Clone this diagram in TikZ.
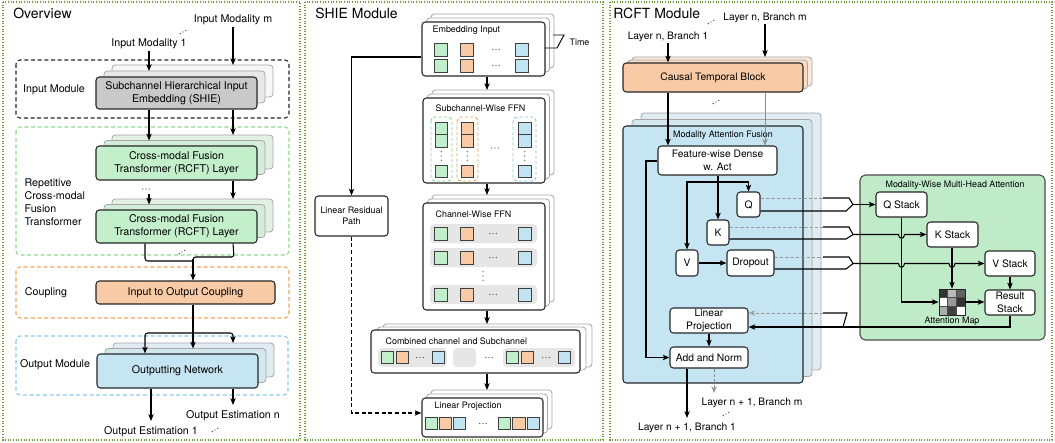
\documentclass[tikz,border=0pt]{standalone}
\usepackage{fontspec}
\setmainfont{TeX Gyre Heros}
\usetikzlibrary{arrows.meta,calc}
\definecolor{cgray}{HTML}{C9C9C9}
\definecolor{cgreen}{HTML}{C3EFCB}
\definecolor{cgreenb}{HTML}{D4EDD8}
\definecolor{cgreenc}{HTML}{E2F0E4}
\definecolor{corange}{HTML}{F8CBA6}
\definecolor{corangeb}{HTML}{FADCC4}
\definecolor{corangec}{HTML}{FBE8DA}
\definecolor{cblue}{HTML}{C6E5F3}
\definecolor{cblueb}{HTML}{D3E7EF}
\definecolor{cbluec}{HTML}{E0ECF1}
\definecolor{cmaf}{HTML}{C5E5F3}
\definecolor{cmwg}{HTML}{BFEBC8}
\definecolor{pgreen}{HTML}{6B9A3A}
\definecolor{dgreen}{HTML}{8FD78F}
\definecolor{dorange}{HTML}{F0A35A}
\definecolor{dblue}{HTML}{8CC8E6}
\definecolor{cbar}{HTML}{E6E6E6}
\definecolor{sgreen}{HTML}{C2EFCB}
\definecolor{sorange}{HTML}{F8CBA6}
\definecolor{sblue}{HTML}{C2E3F1}
\newcommand{\ftitle}{\fontsize{10.5}{12}\selectfont}
\newcommand{\ftxt}{\fontsize{8}{9.6}\selectfont}
\newcommand{\frc}{\fontsize{7.7}{9.4}\selectfont}
\newcommand{\fsm}{\fontsize{6.7}{8}\selectfont}
\newcommand{\bx}[7]{\node[#6, minimum width={(#4-#2)*0.75pt}, minimum height={(#5-#3)*0.75pt}] (#1) at ({(#2+#4)/2},{(#3+#5)/2}) {#7};}
\newcommand{\stacked}[9]{%
  \path[#8c] ({#2+2*#6},{#3+2*#7}) rectangle ({#4+2*#6},{#5+2*#7});
  \path[#8b] ({#2+#6},{#3+#7}) rectangle ({#4+#6},{#5+#7});
  \coordinate (#1-a) at ({#2+#6},{#3+#7});
  \coordinate (#1-b) at ({#2+2*#6},{#3+2*#7});
  \bx{#1}{#2}{#3}{#4}{#5}{#8}{#9}
}
\newcommand{\dd}[3]{\foreach \k in {-1,0,1}{\fill[black!75] ({#1+\k*3.2*cos(#3)},{#2-\k*3.2*sin(#3)}) circle (0.5pt);}}
\newcommand{\dv}[2]{\foreach \k in {-1,0,1}{\fill[black!75] (#1,{#2+\k*4.2}) circle (0.5pt);}}
\newcommand{\sq}[4]{\path[sqr, fill=#4] (#1,#2) rectangle ++(#3,#3);}
\begin{document}
\begin{tikzpicture}[x=0.75pt,y=-0.75pt,
  box/.style={draw=black!85, line width=0.8pt, rounded corners=2.5pt, inner sep=0pt, align=center},
  bk/.style={draw=black!35, line width=0.6pt, rounded corners=2.5pt},
  ovg/.style={box, fill=cgray, font=\ftxt}, ovgb/.style={bk, fill=gray!18}, ovgc/.style={bk, fill=gray!6},
  ovr/.style={box, fill=cgreen, font=\ftxt}, ovrb/.style={bk, fill=cgreenb}, ovrc/.style={bk, fill=cgreenc},
  ovb/.style={box, fill=cblue, font=\ftxt}, ovbb/.style={bk, fill=cblueb}, ovbc/.style={bk, fill=cbluec},
  wl/.style={box, fill=white, font=\fsm}, wlb/.style={bk, fill=white}, wlc/.style={bk, fill=white},
  ct/.style={box, fill=corange, font=\frc}, ctb/.style={bk, fill=corangeb}, ctc/.style={bk, fill=corangec},
  mf/.style={box, fill=cmaf, font=\fsm}, mfb/.style={bk, fill=cblueb}, mfc/.style={bk, fill=cbluec},
  wbox/.style={box, fill=white, font=\frc},
  txt/.style={font=\ftxt, inner sep=1pt},
  rtxt/.style={font=\frc, inner sep=1pt},
  stxt/.style={font=\fsm, inner sep=1pt},
  title/.style={font=\ftitle, inner sep=0pt, anchor=west},
  panel/.style={draw=pgreen, line width=0.8pt, dash pattern=on 0.8pt off 1.2pt},
  modbox/.style={line width=0.8pt, dash pattern=on 3pt off 2pt, rounded corners=3pt},
  ln/.style={draw=black, line width=0.8pt},
  arr/.style={ln, -{Stealth[length=5pt,width=4pt,inset=1.2pt]}},
  garr/.style={draw=black!45, line width=0.6pt, -{Stealth[open,length=5pt,width=4pt]}},
  gdash/.style={draw=black!40, line width=0.6pt, dash pattern=on 2.5pt off 1.5pt},
  sqr/.style={draw=black!75, line width=0.7pt},
  bar/.style={fill=cbar, rounded corners=3pt},
  grp/.style={line width=0.7pt, dash pattern=on 2.5pt off 1.5pt, rounded corners=3pt}
]
\useasboundingbox (0,0) rectangle (1055,442);

% ================= Overview =================
\draw[panel] (3,2) rectangle (300,440);
\node[title] (t1) at (13,13) {Overview};
\node[txt] (inm) at (233,20) {Input Modality m};
\dd{183}{32}{30}
\node[txt] (in1) at (149,44) {Input Modality 1};
\draw[modbox, draw=black!85] (16,60) rectangle (289,118);
\node[txt] (lim) at (54,90) {Input Module};
\stacked{shie}{96}{77}{257}{109}{8}{-6}{ovg}{Subchannel Hierarchical Input\\Embedding (SHIE)}
\draw[arr] (in1) -- (in1 |- shie-a);
\draw[arr] (inm) -- (inm |- shie-b);

\draw[modbox, draw=dgreen] (16,127) rectangle (289,255);
\node[txt, align=left, anchor=west] (lrep) at (23,202) {Repetitive\\Cross-modal\\Fusion\\Transformer};
\stacked{rca}{96}{146}{257}{180}{8}{-5.5}{ovr}{Cross-modal Fusion\\Transformer (RCFT) Layer}
\stacked{rcb}{96}{210}{257}{243}{8}{-5.5}{ovr}{Cross-modal Fusion\\Transformer (RCFT) Layer}
\draw[arr] (shie.south -| in1) -- (in1 |- rca-a);
\draw[arr] (shie.south -| inm) -- (inm |- rca-b);
\dd{146}{189}{0}
\coordinate (rd) at (149,194);
\draw[arr] (rd) -- (rd |- rcb-a);
\draw[arr] (rca.south -| inm) -- (inm |- rcb-b);
\coordinate (mg) at (193,259);
\draw[ln, rounded corners=2pt] (rcb.south -| 145,0) -- (145,261) -- (193,261);
\draw[ln, rounded corners=2pt] (rcb.south -| inm) -- (234,257) -- (193,257) -- (193,262);
\dd{182}{252}{30}

\draw[modbox, draw=dorange] (16,267) rectangle (289,318);
\node[txt] (lcp) at (46,293) {Coupling};
\bx{coup}{96}{281}{275}{304}{box, fill=corange, font=\ftxt}{Input to Output Coupling}
\draw[arr] (mg) -- (mg |- coup.north);

\draw[modbox, draw=dblue] (16,336) rectangle (288,395);
\node[txt] (lom) at (55,365) {Output Module};
\stacked{outn}{97}{354}{258}{388}{8}{-5.5}{ovb}{Outputting Network}
\draw[arr] (coup.south -| mg) -- (mg |- outn-a);
\coordinate (br) at (193,333);
\draw[arr, rounded corners=2pt] (br) -| (outn.north -| 145,0);
\draw[arr, rounded corners=2pt] (br) -| (inm |- outn-b);
\node[txt] (oen) at (233,416) {Output Estimation n};
\node[txt] (oea) at (151,432) {Output Estimation 1};
\draw[arr] (outn.south -| oea) -- (151,421);
\draw[arr] (outn.south -| inm) -- (233,405);
\dd{215}{430}{30}

% ================= SHIE =================
\draw[panel] (305,2) rectangle (603,440);
\node[title] (t2) at (315,13) {SHIE Module};
\coordinate (sx) at (487,0);
% embedding input
\stacked{emb}{422}{22}{545}{76}{4.5}{-4}{wl}{}
\node[stxt, anchor=west] (lemb) at (431,30) {Embedding Input};
\foreach \yy in {43,59}{\sq{434}{\yy}{13}{sgreen}\sq{460}{\yy}{13}{sorange}\sq{515}{\yy}{13}{sblue}\dd{496}{\yy+6.5}{0}}
\draw[ln, line width=0.7pt] (545,48) -- (557,48) -- (564,35) -- (553,35);
\node[stxt, anchor=west] (ltime) at (568,42) {Time};
% subchannel-wise FFN
\stacked{sub}{423}{98}{545}{183}{4.5}{-4}{wl}{}
\node[stxt, anchor=west] (lsub) at (434,108) {Subchannel-Wise FFN};
\draw[grp, draw=dgreen] (431,117) rectangle (452,181);
\draw[grp, draw=dorange] (457,117) rectangle (478,181);
\draw[grp, draw=dblue] (513,117) rectangle (536,181);
\foreach \xx/\cc in {435/sgreen,461/sorange,518.5/sblue}{\sq{\xx}{122}{12.5}{\cc}\sq{\xx}{134.5}{12.5}{\cc}\sq{\xx}{165}{12.5}{\cc}\dv{\xx+6.25}{156}}
\dd{495}{148}{0}
% channel-wise FFN
\stacked{chan}{423}{203}{545}{310}{4.5}{-4}{wl}{}
\node[stxt, anchor=west] (lchan) at (434,214) {Channel-Wise FFN};
\foreach \yy in {224,248,285}{\path[bar] (430,\yy) rectangle (537,\yy+19);
  \sq{434}{\yy+3}{13}{sgreen}\sq{460}{\yy+3}{13}{sorange}\sq{518}{\yy+3}{13}{sblue}
  \dd{493}{\yy+9.5}{0}}
\dv{483}{276}
% linear residual path
\bx{lrp}{315}{196}{388}{236}{box, fill=white, font=\fsm}{Linear Residual\\Path}
% combined
\stacked{comb}{371}{330}{580}{373}{6}{-3}{wl}{}
\node[stxt, anchor=west] (lcomb) at (384,341) {Combined channel and Subchannel};
\path[bar] (378,348) rectangle (447,367);
\sq{381}{351.5}{12}{sgreen}\sq{396}{351.5}{12}{sorange}\sq{432}{351.5}{12}{sblue}
\dd{420}{357.5}{0}
\path[bar] (453,348) rectangle (476,367);
\dd{489}{357.5}{0}
\path[bar] (503,348) rectangle (575,367);
\sq{506}{351.5}{12}{sgreen}\sq{521}{351.5}{12}{sorange}\sq{558}{351.5}{12}{sblue}
\dd{546}{357.5}{0}
% linear projection
\stacked{lpj}{422}{398}{543}{437}{4.5}{-4}{wl}{}
\node[stxt, anchor=west] (llpj) at (433,406) {Linear Projection};
\sq{425}{417}{12.5}{sgreen}\sq{439}{417}{12.5}{sorange}\sq{453}{417}{12.5}{sblue}
\dd{483}{423.5}{0}
\sq{498}{417}{12.5}{sgreen}\sq{512.5}{417}{12.5}{sorange}\sq{527}{417}{12.5}{sblue}
% SHIE arrows
\draw[arr] (emb.south -| sx) -- (sx |- sub-b);
\draw[arr] (sub.south -| sx) -- (sx |- chan-b);
\draw[arr] (chan.south -| sx) -- (sx |- comb-b);
\draw[arr] (comb.south -| sx) -- (sx |- lpj-b);
\draw[arr] (emb.west |- 0,57) -| (lrp.north);
\draw[arr, dash pattern=on 3pt off 2pt] (lrp.south) |- (lpj.west |- 0,413);

% ================= RCFT =================
\draw[panel] (610,2) rectangle (1052,440);
\node[title] (t3) at (613,13) {RCFT Module};
\node[rtxt] (bm) at (765,18) {Layer n, Branch m};
\dd{711}{22}{30}
\node[rtxt] (ba) at (668,37) {Layer n, Branch 1};
\stacked{ctblk}{623}{63}{803}{92}{4.5}{-3}{ct}{Causal Temporal Block}
\draw[arr] (ba) -- (ba |- ctblk.north);
\draw[arr] (bm) -- (bm |- ctblk-b);
\stacked{maf}{623}{126}{803}{383}{9}{-6.5}{mf}{}
\node[stxt] (lmaf) at (723,135) {Modality Attention Fusion};
\dd{716}{102}{30}
\bx{fwd}{658}{146}{777}{175}{wbox}{Feature-wise Dense\\w. Act}
\draw[arr] (ctblk.south -| ba) -- (ba |- fwd.north);
\draw[garr] (ctblk.south -| bm) -- (bm |- fwd.north);
\bx{Q}{737}{192}{760}{217}{wbox}{Q}
\bx{K}{707}{220}{729}{245}{wbox}{K}
\bx{V}{676}{250}{698}{276}{wbox}{V}
\bx{drop}{727}{250}{774}{276}{wbox}{Dropout}
\bx{lp}{670}{308}{748}{333}{wbox}{Linear\\Projection}
\bx{an}{670}{347}{748}{368}{wbox}{Add and Norm}
\coordinate (kx) at (718,182);
\draw[arr] (fwd.south -| K.north) -- (K.north);
\draw[arr] (kx) -| (Q.north);
\draw[arr] (kx) -| (V.north);
\draw[arr] (V) -- (drop);
\draw[arr] (fwd.west |- 0,161) -- (646,161) |- (an.west);
\draw[arr] (lp.south -| an.north) -- (an.north);
\node[rtxt] (obm) at (752,403) {Layer n + 1, Branch m};
\node[rtxt] (oba) at (687,428) {Layer n + 1, Branch 1};
\draw[arr] (an.south -| oba) -- (687,418);
\draw[garr, dash pattern=on 2.5pt off 1.5pt] (an.south -| 714,0) -- (714,393);
\dd{726}{414}{30}

% Modality-wise MHA
\bx{mw}{860}{175}{1045}{340}{draw=black!70, fill=cmwg, rounded corners=4pt, line width=0.8pt, inner sep=0pt}{}
\node[stxt] (lmw) at (955,185) {Modality-Wise Multi-Head Attention};
\bx{QS}{876}{192}{927}{217}{wbox}{Q Stack}
\bx{KS}{927}{222}{978}{247}{wbox}{K Stack}
\bx{VS}{985}{251}{1035}{276}{wbox}{V Stack}
\bx{RS}{985}{290}{1035}{315}{wbox}{Result\\Stack}
\foreach \cx/\cy/\cc in {0/0/black!80, 1/0/black!27, 2/0/black!62, 0/1/white, 1/1/black!40, 2/1/black!80, 0/2/black!33, 1/2/black!75, 2/2/white}
  \fill[\cc] ({939+\cx*8.667},{289+\cy*8.667}) rectangle ++(8.667,8.667);
\draw[black!70, line width=0.4pt] (947.667,289) -- (947.667,315) (956.333,289) -- (956.333,315) (939,297.667) -- (965,297.667) (939,306.333) -- (965,306.333);
\bx{am}{939}{289}{965}{315}{inner sep=0pt, draw=black!85, line width=0.6pt}{}
\node[stxt] (lam) at (952,321.5) {Attention Map};
\draw[arr] (QS.south) |- (am.west);
\draw[arr] (KS.south -| am.north) -- (am.north);
\draw[arr] (VS) -- (RS);
\draw[arr] (am.east) -- (RS.west |- am.east);

% Q, K, Dropout -> stacks
\coordinate (qm) at (853,204.5);
\draw[gdash] (Q.east |- 0,198) -- (823,198);
\draw[ln] (823,198) -- (849,198) -- (qm);
\draw[ln] (Q.east |- 0,211) -- (846,211) -- (qm);
\draw[arr] (qm) -- (QS.west);
\coordinate (km) at (853,234.5);
\draw[gdash] (K.east |- 0,227) -- (823,227);
\draw[ln] (823,227) -- (849,227) -- (km);
\draw[ln] (K.east |- 0,239) -- (846,239) -- (km);
\draw[arr] (km) -- (898.5,234.5) .. controls (898.5,239.5) and (904.5,239.5) .. (904.5,234.5) -- (KS.west);
\coordinate (dm) at (853,263.5);
\draw[gdash] (drop.east |- 0,257) -- (823,257);
\draw[ln] (823,257) -- (849,257) -- (dm);
\draw[ln] (drop.east |- 0,269) -- (846,269) -- (dm);
\draw[arr] (dm) -- (898.5,263.5) .. controls (898.5,268.5) and (904.5,268.5) .. (904.5,263.5) -- (949,263.5) .. controls (949,268.5) and (955,268.5) .. (955,263.5) -- (VS.west);
% result -> linear projection
\draw[arr] (RS.south) |- (lp.east |- 0,327);
\draw[ln] (823,313) -- (847,313) -- (843,327);
\draw[gdash, -{Stealth[open,length=5pt,width=4pt]}] (823,313) -- (lp.east |- 0,313);
\end{tikzpicture}
\end{document}
